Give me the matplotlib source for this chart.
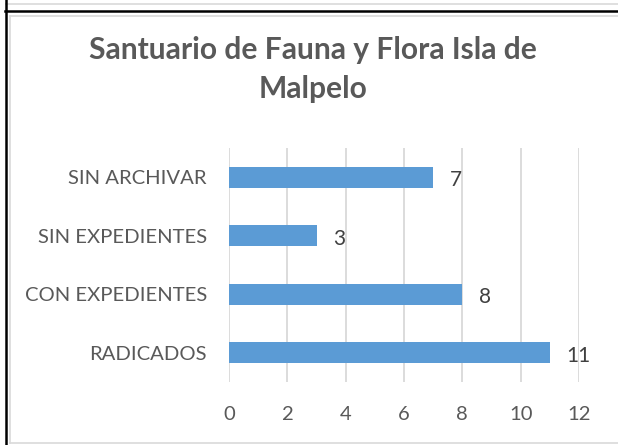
import matplotlib.pyplot as plt
from matplotlib.lines import Line2D

categorias = ['RADICADOS', 'CON EXPEDIENTES', 'SIN EXPEDIENTES', 'SIN ARCHIVAR']
valores = [11, 8, 3, 7]
ticks_x = [0, 2, 4, 6, 8, 10, 12]

W, H = 618, 445
plt.rcParams['font.family'] = ['Lato', 'DejaVu Sans']

fig = plt.figure(figsize=(W / 100, H / 100), dpi=100)
fig.patch.set_facecolor('white')

# area del grafico en pixeles
x0, x1, ytop, ybot = 229, 579, 148, 382
ax = fig.add_axes([x0 / W, 1 - ybot / H, (x1 - x0) / W, (ybot - ytop) / H])

pos = range(len(categorias))
barras = ax.barh(pos, valores, height=0.36, color='#5b9bd5', zorder=2)
etiquetas = ax.bar_label(barras, labels=[str(v) for v in valores], padding=12,
                         fontsize=15, color='#404040')
for t in etiquetas:
    t.set_y(-2)

ax.set_xlim(0, 12)
ax.set_ylim(-0.5, len(categorias) - 0.5)
ax.set_xticks(ticks_x)
ax.set_yticks(list(pos))
ax.set_yticklabels(categorias)
ax.tick_params(axis='both', length=0, labelsize=14.6, labelcolor='#595959')
ax.tick_params(axis='x', pad=17)
ax.tick_params(axis='y', pad=16)
ax.grid(axis='x', color='#d9d9d9', linewidth=1.3, zorder=0)
for s in ax.spines.values():
    s.set_visible(False)

fig.text(313 / W, 1 - 59 / H, 'Santuario de Fauna y Flora Isla de',
         ha='center', va='baseline', fontsize=21.6, fontweight='bold',
         color='#595959')
fig.text(313 / W, 1 - 98 / H, 'Malpelo',
         ha='center', va='baseline', fontsize=21.6, fontweight='bold',
         color='#595959')


def linea(xs, ys, color, lw):
    fig.add_artist(Line2D([x / W for x in xs], [1 - y / H for y in ys],
                          color=color, linewidth=lw, transform=fig.transFigure))


# marcos alrededor del grafico
linea([6, W], [3.5, 3.5], '#d9d9d9', 1.2)
linea([5, W], [10.5, 10.5], 'black', 1.8)
linea([5.5, 5.5], [0, H], 'black', 1.8)
linea([9.5, 9.5], [16, 443], '#d9d9d9', 1.2)
linea([9.5, W], [16, 16], '#d9d9d9', 1.2)
linea([9.5, W], [443, 443], '#d9d9d9', 1.2)

fig.savefig('out.png', dpi=100)
